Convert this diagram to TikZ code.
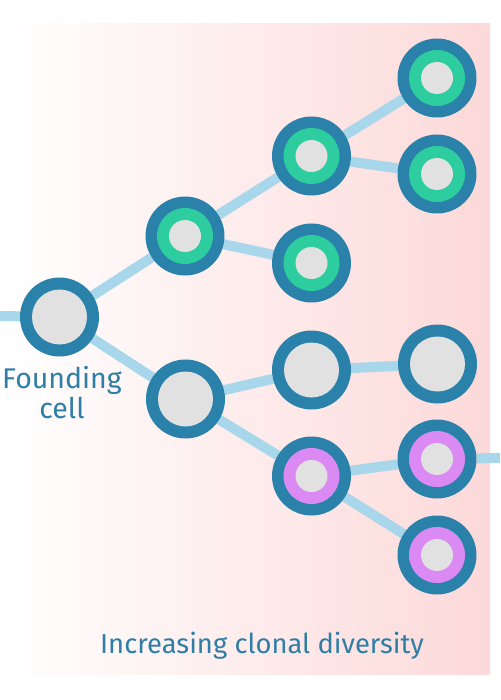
\documentclass[tikz,border=0pt]{standalone}
\usepackage{fontspec}
\setmainfont{Fira Sans}
\usetikzlibrary{backgrounds}
\definecolor{ringblue}{HTML}{2A82AA}
\definecolor{edgeblue}{HTML}{A8D6EA}
\definecolor{cellgrey}{HTML}{E1E1E1}
\definecolor{clonegreen}{HTML}{2DCD9F}
\definecolor{clonepurple}{HTML}{DA8AF2}
\definecolor{bgpink}{HTML}{FDD9D9}
\definecolor{txtblue}{HTML}{2E7EA6}
\pgfdeclarelayer{bgshade}
\pgfdeclarelayer{edges}
\pgfsetlayers{bgshade,edges,main}
\tikzset{
  cell/.style={circle, fill=ringblue, minimum size=79pt, inner sep=0pt, outer sep=0pt},
  plaincell/.style={cell, path picture={\fill[cellgrey] (path picture bounding box.center) circle (27.5pt);}},
  greencell/.style={cell, path picture={\fill[clonegreen] (path picture bounding box.center) circle (28pt);
      \fill[cellgrey] (path picture bounding box.center) circle (16pt);}},
  purplecell/.style={cell, path picture={\fill[clonepurple] (path picture bounding box.center) circle (28pt);
      \fill[cellgrey] (path picture bounding box.center) circle (16pt);}},
  link/.style={draw=edgeblue, line width=10pt},
  lbl/.style={text=txtblue, inner sep=0pt, anchor=base}
}
\begin{document}
\begin{tikzpicture}[x=1pt, y=-1pt]
\useasboundingbox (0,0) rectangle (500,700);
\begin{pgfonlayer}{bgshade}
  \shade[left color=white, right color=bgpink] (0,24) rectangle (490,674);
\end{pgfonlayer}
\node[plaincell] (F) at (59.5,317) {};
\node[greencell] (A) at (185,236) {};
\node[plaincell] (B) at (185.5,399) {};
\node[greencell] (C) at (311.5,156) {};
\node[greencell] (D) at (311.5,263) {};
\node[plaincell] (E) at (311.5,370) {};
\node[purplecell] (G) at (311.5,476) {};
\node[greencell] (H) at (437,78) {};
\node[greencell] (I) at (437,174) {};
\node[plaincell] (J) at (437.5,364) {};
\node[purplecell] (K) at (437,459) {};
\node[purplecell] (L) at (437,555) {};
\coordinate (in) at (0,316);
\coordinate (out) at (500,458);
\begin{pgfonlayer}{edges}
  \draw[link] (in) -- (F);
  \draw[link] (F) -- (A);
  \draw[link] (F) -- (B);
  \draw[link] (A) -- (C);
  \draw[link] (A) -- (D);
  \draw[link] (B) -- (E);
  \draw[link] (B) -- (G);
  \draw[link] (C) -- (H);
  \draw[link] (C) -- (I);
  \draw[link] (E) -- (J);
  \draw[link] (G) -- (K);
  \draw[link] (G) -- (L);
  \draw[link] (K) -- (out);
\end{pgfonlayer}
\node[lbl, font=\fontsize{28.5}{32}\selectfont] (found1) at (62,388) {Founding};
\node[lbl, font=\fontsize{28.5}{32}\selectfont] (found2) at (62,418) {cell};
\node[lbl, font=\fontsize{27.4}{32}\selectfont] (title) at (262,653) {Increasing clonal diversity};
\end{tikzpicture}
\end{document}
